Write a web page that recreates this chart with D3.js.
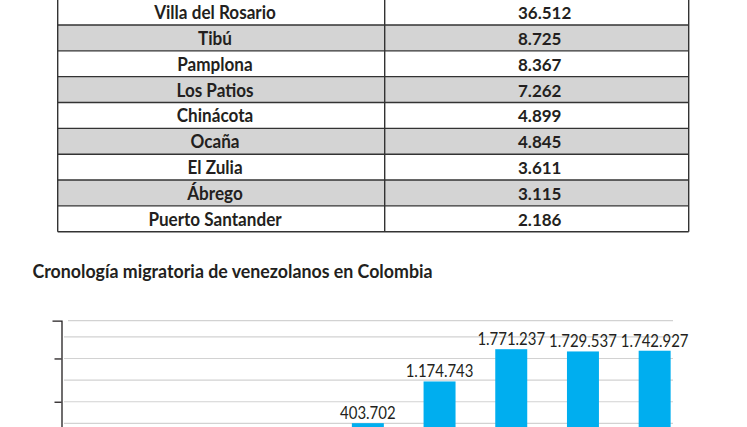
<!DOCTYPE html>
<html>
<head>
<meta charset="utf-8">
<script src="https://cdn.jsdelivr.net/npm/d3@7"></script>
<style>
  html, body { margin: 0; padding: 0; background: #fff; }
  svg { display: block; }
</style>
</head>
<body>
<script>
// municipios de Norte de Santander y venezolanos registrados
const municipios = ['Villa del Rosario', 'Tibú', 'Pamplona', 'Los Patios', 'Chinácota',
  'Ocaña', 'El Zulia', 'Ábrego', 'Puerto Santander'];
const migrantes = [36512, 8725, 8367, 7262, 4899, 4845, 3611, 3115, 2186];

// cronología migratoria (las etiquetas del eje quedan fuera del recorte)
const periodos = ['2017', '2018', '2019', '2020', '2021'];
const venezolanos = [403702, 1174743, 1771237, 1729537, 1742927];

const tituloGrafico = 'Cronología migratoria de venezolanos en Colombia';

const W = 747, H = 427;
const es = d3.formatLocale({decimal: ',', thousands: '.', grouping: [3], currency: ['$', '']});
const fmt = es.format(',d');

const svg = d3.select('body').append('svg')
  .attr('width', W)
  .attr('height', H)
  .attr('viewBox', [0, 0, W, H]);

// ---- tabla ----
const tX0 = 57.7, tXmid = 384.7, tX1 = 688.7;
const row = d3.scaleBand()
  .domain(municipios)
  .range([-0.84, 231.7]);

const filas = svg.append('g').attr('class', 'tabla')
  .selectAll('g.fila')
  .data(municipios.map((m, i) => ({m: m, v: migrantes[i], i: i})))
  .join('g')
  .attr('class', 'fila')
  .attr('transform', d => 'translate(0,' + row(d.m) + ')');

filas.append('rect')
  .attr('x', tX0)
  .attr('width', tX1 - tX0)
  .attr('height', row.bandwidth())
  .attr('fill', d => d.i % 2 ? '#d4d4d4' : '#fff');

// texto pesado y algo condensado, como la fuente del original
filas.append('text')
  .attr('transform', 'translate(215,' + (row.bandwidth() / 2 + 7) + ') scale(0.9,1)')
  .attr('text-anchor', 'middle')
  .style('font', 'bold 19px Lato')
  .attr('fill', '#231f20')
  .text(d => d.m);

filas.append('text')
  .attr('transform', 'translate(518,' + (row.bandwidth() / 2 + 7) + ')')
  .style('font', 'bold 17px Lato')
  .attr('fill', '#231f20')
  .text(d => fmt(d.v));

// bordes de la tabla
const bordes = svg.append('g')
  .attr('stroke', '#333')
  .attr('stroke-width', 1.4);

bordes.selectAll('line.h')
  .data(municipios.slice(1).concat(['fin']))
  .join('line')
  .attr('class', 'h')
  .attr('x1', tX0).attr('x2', tX1)
  .attr('y1', (d, i) => row(municipios[0]) + (i + 1) * row.step())
  .attr('y2', (d, i) => row(municipios[0]) + (i + 1) * row.step());

bordes.selectAll('line.v')
  .data([tX0, tXmid, tX1])
  .join('line')
  .attr('class', 'v')
  .attr('x1', d => d).attr('x2', d => d)
  .attr('y1', row.range()[0] - 2)
  .attr('y2', row.range()[1]);

// ---- gráfico de barras ----
svg.append('text')
  .attr('x', 32.5)
  .attr('y', 277.5)
  .attr('textLength', 400)
  .attr('lengthAdjust', 'spacingAndGlyphs')
  .style('font', 'bold 19px Lato')
  .attr('fill', '#231f20')
  .text(tituloGrafico);

const x = d3.scaleBand()
  .domain(periodos)
  .range([332, 690.5])
  .paddingInner(0.554)
  .paddingOuter(0.277);

const y = d3.scaleLinear()
  .domain([0, 2300000])
  .range([445, 320.6]);

const plotL = 64, plotR = 673;

// líneas de cuadrícula
svg.append('g').attr('class', 'grid')
  .selectAll('line')
  .data(d3.range(400000, 2300001, 400000).concat([2300000]))
  .join('line')
  .attr('x1', d => d === 2300000 ? 68 : plotL)
  .attr('x2', plotR)
  .attr('y1', d => y(d))
  .attr('y2', d => y(d))
  .attr('stroke', '#d2d2d2')
  .attr('stroke-width', 1.1);

// eje vertical, sin rótulos
svg.append('g')
  .attr('transform', 'translate(61.5,0)')
  .call(d3.axisLeft(y)
    .tickValues([800000, 1600000])
    .tickSize(7)
    .tickSizeOuter(9)
    .tickFormat(''))
  .call(g => g.selectAll('path, line').attr('stroke', '#231f20').attr('stroke-width', 1.3));

const barras = svg.append('g').attr('class', 'barras')
  .selectAll('g')
  .data(periodos.map((p, i) => ({p: p, v: venezolanos[i]})))
  .join('g');

barras.append('rect')
  .attr('x', d => x(d.p))
  .attr('y', d => y(d.v))
  .attr('width', x.bandwidth())
  .attr('height', d => y(0) - y(d.v))
  .attr('fill', '#00aeef');

barras.append('text')
  .attr('transform', d => 'translate(' + (x(d.p) + x.bandwidth() / 2) + ',' + (y(d.v) - 4) + ') scale(0.88,1)')
  .attr('text-anchor', 'middle')
  .style('font', '17px Lato')
  .attr('fill', '#231f20')
  .text(d => fmt(d.v));
</script>
</body>
</html>
